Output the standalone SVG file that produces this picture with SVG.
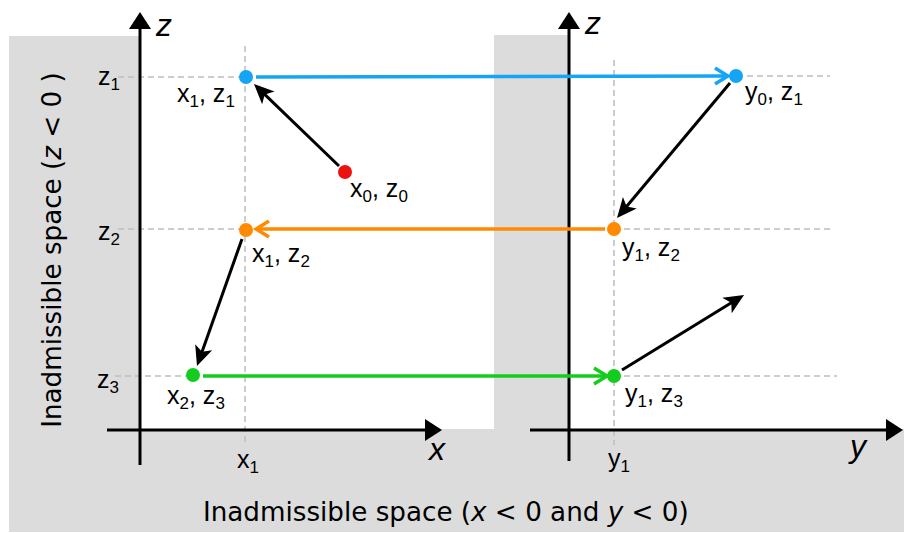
<svg xmlns="http://www.w3.org/2000/svg" width="904" height="533" viewBox="0 0 904 533">
<style>
.lbl{font-family:"Liberation Sans",Arial,sans-serif;font-size:25px;fill:#000}
.sub{font-size:17px}
.ax{font-family:"Liberation Sans",Arial,sans-serif;font-size:32px;font-style:italic;fill:#000}
.big{font-family:"DejaVu Sans",sans-serif;font-size:26.2px;fill:#000}
.dash{stroke:#bdbdbd;stroke-width:1.5;stroke-dasharray:6,4;fill:none}
.axis{stroke:#000;stroke-width:3;fill:none}
.blk{stroke:#000;stroke-width:3;fill:none}
</style>
<defs>
<marker id="axh" markerUnits="userSpaceOnUse" viewBox="-2 -12 22 24" refX="0" refY="0" markerWidth="22" markerHeight="24" orient="auto" overflow="visible">
<path d="M0,-11 L17,0 L0,11 z" fill="#000"/>
</marker>
<marker id="ah" markerUnits="userSpaceOnUse" viewBox="-10 -10 26 20" refX="0" refY="0" markerWidth="26" markerHeight="20" orient="auto" overflow="visible">
<path d="M12,0 L-8,-9 L-3,0 L-8,9 z" fill="#000"/>
</marker>
<marker id="cb" markerUnits="userSpaceOnUse" viewBox="-16 -10 20 20" refX="0" refY="0" markerWidth="20" markerHeight="20" orient="auto" overflow="visible">
<path d="M-13,-8 L0,0 L-13,8" fill="none" stroke="#14a6f5" stroke-width="3.5"/>
</marker>
<marker id="co" markerUnits="userSpaceOnUse" viewBox="-16 -10 20 20" refX="0" refY="0" markerWidth="20" markerHeight="20" orient="auto" overflow="visible">
<path d="M-13,-8 L0,0 L-13,8" fill="none" stroke="#ff8a00" stroke-width="3.5"/>
</marker>
<marker id="cg" markerUnits="userSpaceOnUse" viewBox="-16 -10 20 20" refX="0" refY="0" markerWidth="20" markerHeight="20" orient="auto" overflow="visible">
<path d="M-13,-8 L0,0 L-13,8" fill="none" stroke="#14cc1e" stroke-width="3.5"/>
</marker>
</defs>
<rect width="904" height="533" fill="#fff"/>
<polygon id="inadmissible" points="9,36 139,36 139,429 494,429 494,35 569,35 569,429 904,429 904,532 9,532" fill="#dcdcdc"/>
<g id="guides">
<line class="dash" x1="245" y1="46" x2="245" y2="446"/>
<line class="dash" x1="118" y1="77" x2="245" y2="77"/>
<line class="dash" x1="118" y1="229" x2="245" y2="229"/>
<line class="dash" x1="115" y1="376" x2="190" y2="376"/>
<line class="dash" x1="614" y1="60" x2="614" y2="445"/>
<line class="dash" x1="737" y1="76" x2="830" y2="76"/>
<line class="dash" x1="614" y1="229" x2="832" y2="229"/>
<line class="dash" x1="614" y1="376" x2="837" y2="376"/>
</g>
<g id="axes">
<line class="axis" x1="140" y1="465" x2="140" y2="29" marker-end="url(#axh)"/>
<line class="axis" x1="107" y1="430" x2="425" y2="430" marker-end="url(#axh)"/>
<line class="axis" x1="569" y1="461" x2="569" y2="29" marker-end="url(#axh)"/>
<line class="axis" x1="530" y1="430" x2="886" y2="430" marker-end="url(#axh)"/>
<text class="ax" x="156" y="36">z</text>
<text class="ax" x="585" y="34">z</text>
<text class="ax" x="429" y="460">x</text>
<text class="ax" x="850" y="457">y</text>
</g>
<g id="connectors">
<line x1="256" y1="77" x2="728" y2="76" stroke="#14a6f5" stroke-width="3.5" marker-end="url(#cb)"/>
<line x1="605" y1="229" x2="256" y2="229" stroke="#ff8a00" stroke-width="3.5" marker-end="url(#co)"/>
<line x1="203" y1="376" x2="607" y2="376" stroke="#14cc1e" stroke-width="3.5" marker-end="url(#cg)"/>
<line class="blk" x1="339" y1="166" x2="262.6" y2="92.3" marker-end="url(#ah)"/>
<line class="blk" x1="730" y1="83" x2="624.7" y2="208.8" marker-end="url(#ah)"/>
<line class="blk" x1="242" y1="239" x2="201" y2="354.7" marker-end="url(#ah)"/>
<line class="blk" x1="622" y1="370" x2="733.8" y2="301.3" marker-end="url(#ah)"/>
</g>
<g id="n-x0z0"><circle cx="345" cy="172" r="7" fill="#ee1111"/><text class="lbl" x="350" y="197">x<tspan class="sub" dy="5">0</tspan><tspan dy="-5">, z</tspan><tspan class="sub" dy="5">0</tspan></text></g>
<g id="n-x1z1"><circle cx="246" cy="77" r="7" fill="#14a6f5"/><text class="lbl" x="177" y="102">x<tspan class="sub" dy="5">1</tspan><tspan dy="-5">, z</tspan><tspan class="sub" dy="5">1</tspan></text></g>
<g id="n-y0z1"><circle cx="736" cy="76" r="7" fill="#14a6f5"/><text class="lbl" x="745" y="100">y<tspan class="sub" dy="5">0</tspan><tspan dy="-5">, z</tspan><tspan class="sub" dy="5">1</tspan></text></g>
<g id="n-y1z2"><circle cx="614" cy="229" r="7" fill="#ff8a00"/><text class="lbl" x="622" y="256">y<tspan class="sub" dy="5">1</tspan><tspan dy="-5">, z</tspan><tspan class="sub" dy="5">2</tspan></text></g>
<g id="n-x1z2"><circle cx="246" cy="230" r="7" fill="#ff8a00"/><text class="lbl" x="252" y="262">x<tspan class="sub" dy="5">1</tspan><tspan dy="-5">, z</tspan><tspan class="sub" dy="5">2</tspan></text></g>
<g id="n-x2z3"><circle cx="193" cy="375" r="7" fill="#14cc1e"/><text class="lbl" x="167" y="404">x<tspan class="sub" dy="5">2</tspan><tspan dy="-5">, z</tspan><tspan class="sub" dy="5">3</tspan></text></g>
<g id="n-y1z3"><circle cx="614" cy="376" r="7" fill="#14cc1e"/><text class="lbl" x="625" y="402">y<tspan class="sub" dy="5">1</tspan><tspan dy="-5">, z</tspan><tspan class="sub" dy="5">3</tspan></text></g>
<g id="ticks">
<text class="lbl" x="98" y="85">z<tspan class="sub" dy="5">1</tspan></text>
<text class="lbl" x="98" y="240">z<tspan class="sub" dy="5">2</tspan></text>
<text class="lbl" x="97" y="388">z<tspan class="sub" dy="5">3</tspan></text>
<text class="lbl" x="237" y="468">x<tspan class="sub" dy="5">1</tspan></text>
<text class="lbl" x="608" y="467">y<tspan class="sub" dy="5">1</tspan></text>
</g>
<g id="regions">
<text class="big" transform="translate(61,250) rotate(-90)" text-anchor="middle">Inadmissible space (<tspan font-style="italic">z</tspan> &lt; 0 )</text>
<text class="big" x="203" y="521">Inadmissible space (<tspan font-style="italic">x</tspan> &lt; 0 and <tspan font-style="italic">y</tspan> &lt; 0)</text>
</g>
</svg>
